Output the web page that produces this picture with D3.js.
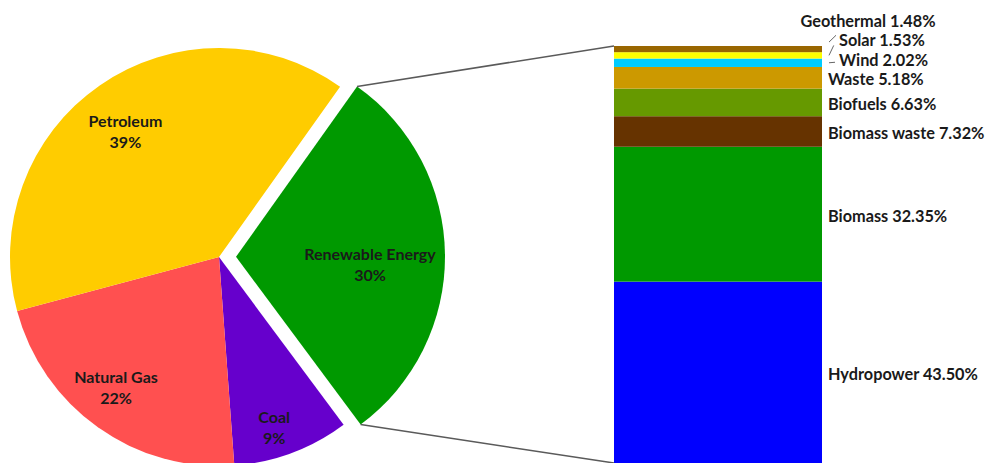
<!DOCTYPE html>
<html>
<head>
<meta charset="utf-8">
<script src="https://cdn.jsdelivr.net/npm/d3@7"></script>
<style>
    html, body { margin: 0; padding: 0; background: #fff; overflow: hidden; }
    svg { display: block; }
    text { font-family: Lato, 'Open Sans', sans-serif; font-weight: bold; fill: #1a1a1a; }
</style>
</head>
<body>
<svg id="chart" width="990" height="463"></svg>
<script>
;((window, document, d3) => {

    'use strict';

    // pie, listed clockwise starting from the exploded slice
    const source_names = ['Renewable Energy', 'Coal', 'Natural Gas', 'Petroleum'];
    const source_values = [30, 9, 22, 39];
    const source_colors = ['#009900', '#6600cc', '#ff5050', '#ffcc00'];

    // breakdown of the renewable slice, bottom to top
    const renewable_names = ['Hydropower', 'Biomass', 'Biomass waste', 'Biofuels', 'Waste', 'Wind', 'Solar', 'Geothermal'];
    const renewable_values = [43.50, 32.35, 7.32, 6.63, 5.18, 2.02, 1.53, 1.48];
    const renewable_colors = ['#0000ff', '#009900', '#663300', '#669900', '#cc9900', '#00ccff', '#ffff00', '#996600'];

    const W = 990, H = 463;
    const cx = 219, cy = 257, radius = 209;
    const explode_px = 17;
    const start_angle = 35.4 * Math.PI / 180;
    const bar_x0 = 614, bar_x1 = 822, bar_top = 46, bar_bottom = 463;

    // "best fit" style nudges for pie labels (layout only)
    const label_nudge = { 'Natural Gas': [-8, -13], 'Coal': [-2, 7] };

    const svg = d3.select('#chart').attr('viewBox', `0 0 ${W} ${H}`);

    const pie = d3.pie().sort(null).value(d => d.value)
        .startAngle(start_angle).endAngle(start_angle + 2 * Math.PI);

    const arcs = pie(source_names.map((name, i) => ({ name, value: source_values[i], color: source_colors[i] })));
    const arc = d3.arc().innerRadius(0).outerRadius(radius);

    const offsetOf = (d, px) => {
        let a = (d.startAngle + d.endAngle) / 2;
        return [Math.sin(a) * px, -Math.cos(a) * px];
    };

    const pie_g = svg.append('g').attr('transform', `translate(${cx}, ${cy})`);

    const slice = pie_g.selectAll('g.slice')
        .data(arcs).enter()
        .append('g')
        .classed('slice', true)
        .attr('transform', (d, i) => {
            let [dx, dy] = offsetOf(d, i === 0 ? explode_px : 0);
            return `translate(${dx}, ${dy})`;
        });

    slice.append('path')
        .attr('d', arc)
        .style('fill', d => d.data.color);

    // first line is centred on the label point, second line below it
    slice.append('text')
        .attr('text-anchor', 'middle')
        .style('font-size', '16px')
        .attr('transform', (d, i) => {
            let [x, y] = offsetOf(d, i === 0 ? 134 : 164);
            let [nx, ny] = label_nudge[d.data.name] || [0, 0];
            return `translate(${x + nx}, ${y + ny})`;
        })
        .each(function (d) {
            let t = d3.select(this);
            t.append('tspan').attr('x', 0).attr('y', 5).text(d.data.name);
            t.append('tspan').attr('x', 0).attr('y', 26).text(`${d.data.value}%`);
        });

    // stacked bar for the renewable slice
    const y = d3.scaleLinear().domain([0, d3.sum(renewable_values)]).range([bar_bottom, bar_top]);
    const stack = renewable_values.reduce((acc, v, i) => {
        let y0 = i ? acc[i - 1].y1 : 0;
        acc.push({ name: renewable_names[i], value: v, color: renewable_colors[i], y0, y1: y0 + v });
        return acc;
    }, []);

    // connector lines from the exploded slice to the bar
    const rs = arcs[0];
    const [ex, ey] = offsetOf(rs, explode_px);
    const corner = a => [cx + ex + Math.sin(a) * radius, cy + ey - Math.cos(a) * radius];

    svg.selectAll('line.connector')
        .data([[corner(rs.startAngle), [bar_x0, y(stack[stack.length - 1].y1)]], [corner(rs.endAngle), [bar_x0, y(0)]]])
        .enter()
        .append('line')
        .classed('connector', true)
        .attr('x1', d => d[0][0]).attr('y1', d => d[0][1])
        .attr('x2', d => d[1][0]).attr('y2', d => d[1][1])
        .style('stroke', '#5a5a5a')
        .style('stroke-width', 1.5);

    svg.append('g').selectAll('rect')
        .data(stack).enter()
        .append('rect')
        .attr('x', bar_x0)
        .attr('width', bar_x1 - bar_x0)
        .attr('y', d => y(d.y1))
        .attr('height', d => y(d.y0) - y(d.y1))
        .style('fill', d => d.color);

    // labels sit at segment middles, pushed up when they would collide
    const min_gap = 19.5;
    stack.forEach((d, i) => {
        d.mid = (y(d.y0) + y(d.y1)) / 2;
        d.ly = i ? Math.min(d.mid + 2, stack[i - 1].ly - min_gap) : d.mid + 2;
        d.moved = d.mid + 2 - d.ly > 2;
        d.above = d.ly < bar_top - 10;
        d.lx = d.above ? 868 : (d.moved ? 839 : 828);
    });

    const label_g = svg.append('g');

    label_g.selectAll('line.leader')
        .data(stack.filter(d => d.moved)).enter()
        .append('line')
        .classed('leader', true)
        .each(function (d) {
            let y_start = d.above ? d.mid - 7 : d.mid;
            let tx = d.above ? 836 : d.lx - 4;
            let ty = d.above ? d.ly + 14 : Math.min(d.ly + 2, y_start);
            let dx = tx - 829, dy = ty - y_start;
            let len = Math.hypot(dx, dy) || 1;
            let l = Math.min(len, 11);
            d3.select(this)
                .attr('x1', 829).attr('y1', y_start)
                .attr('x2', 829 + dx / len * l).attr('y2', y_start + dy / len * l);
        })
        .style('stroke', '#666')
        .style('stroke-width', 1);

    label_g.selectAll('text')
        .data(stack).enter()
        .append('text')
        .attr('x', d => d.lx)
        .attr('y', d => d.ly)
        .attr('dy', '0.35em')
        .attr('text-anchor', d => d.above ? 'middle' : 'start')
        .style('font-size', '16.3px')
        .text(d => `${d.name} ${d.value.toFixed(2)}%`);

})(window, document, window.d3);
</script>
</body>
</html>
